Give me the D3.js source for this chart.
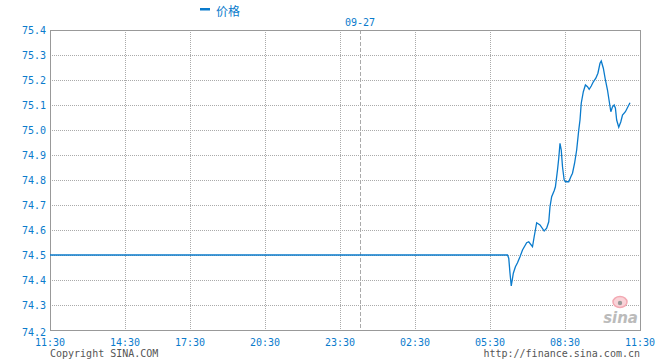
<!DOCTYPE html>
<html><head><meta charset="utf-8">
<script src="https://cdn.jsdelivr.net/npm/d3@7"></script>
<style>body{margin:0;background:#fff;}svg{display:block;}</style>
</head><body><svg id="c" width="660" height="360"></svg>
<script>
// x axis: minute index since 11:30 (trading-minute axis, 1416 minutes total)
const tickLabels = ["11:30","14:30","17:30","20:30","23:30","02:30","05:30","08:30","11:30"];
const tickMinutes = [0,180,336,516,696,876,1056,1236,1416];
const dateLabel = "09-27";
const dateMinute = 744;
const yTicks = [74.2,74.3,74.4,74.5,74.6,74.7,74.8,74.9,75.0,75.1,75.2,75.3,75.4];
const seriesName = "价格";
const minutes = [0,1098,1101,1104,1107,1112,1117,1122,1128,1134,1144,1149,1158,1162,1168,1176,1186,1192,1197,1200,1204,1210,1213,1218,1221,1224,1227,1230,1234,1237,1245,1250,1254,1259,1264,1269,1272,1275,1280,1285,1290,1294,1299,1304,1310,1315,1320,1323,1328,1333,1338,1341,1346,1350,1354,1357,1360,1365,1370,1374,1381,1387,1392];
const prices = [74.50,74.50,74.487,74.427,74.376,74.427,74.453,74.469,74.493,74.52,74.549,74.553,74.533,74.573,74.629,74.62,74.596,74.607,74.633,74.693,74.733,74.757,74.773,74.84,74.887,74.947,74.92,74.853,74.80,74.793,74.793,74.813,74.827,74.867,74.92,75.0,75.04,75.107,75.153,75.18,75.173,75.163,75.176,75.193,75.207,75.227,75.267,75.276,75.247,75.2,75.16,75.127,75.073,75.093,75.1,75.087,75.04,75.011,75.033,75.06,75.073,75.093,75.109];

const svg = d3.select("#c");
const L=50,T=30,R=640,B=330;
const x = d3.scaleLinear().domain([0,1416]).range([L,R]);
const y = d3.scaleLinear().domain([74.2,75.4]).range([B,T]);
const blue="#0a7bcc", mono="'DejaVu Sans Mono', monospace";

// grid
const g = svg.append("g");
g.selectAll("line.h").data(yTicks.slice(1,-1)).join("line")
  .attr("x1",L).attr("x2",R).attr("y1",d=>Math.round(y(d))+0.5).attr("y2",d=>Math.round(y(d))+0.5)
  .attr("stroke","#aaa").attr("stroke-dasharray","1,1");
g.selectAll("line.v").data(tickMinutes.slice(1,-1)).join("line")
  .attr("y1",T).attr("y2",B).attr("x1",d=>Math.round(x(d))+0.5).attr("x2",d=>Math.round(x(d))+0.5)
  .attr("stroke","#aaa").attr("stroke-dasharray","1,1");
svg.append("line").attr("y1",T).attr("y2",B)
  .attr("x1",Math.round(x(dateMinute))+0.5).attr("x2",Math.round(x(dateMinute))+0.5)
  .attr("stroke","#aaa").attr("stroke-dasharray","4,2");

// sina logo
const lg = svg.append("g");
lg.append("text").attr("x",638).attr("y",323).attr("text-anchor","end")
  .attr("font-family","'DejaVu Sans', sans-serif").attr("font-size",15).attr("font-weight","bold")
  .attr("font-style","italic").attr("fill","#bbb").text("sina");
lg.append("ellipse").attr("cx",620).attr("cy",302).attr("rx",7).attr("ry",5.5).attr("fill","#f9d3d8").attr("stroke","#f3a9b3").attr("stroke-width",1.5);
lg.append("circle").attr("cx",620).attr("cy",303).attr("r",2.2).attr("fill","#999");

// border
svg.append("rect").attr("x",L+0.5).attr("y",T+0.5).attr("width",R-L).attr("height",B-T)
  .attr("fill","none").attr("stroke","#999");

// line
svg.append("path").datum(minutes.map((m,i)=>[m,prices[i]]))
  .attr("d",d3.line().x(d=>x(d[0])).y(d=>y(d[1])))
  .attr("fill","none").attr("stroke",blue).attr("stroke-width",1.3);

// y labels
svg.selectAll("text.y").data(yTicks).join("text")
  .attr("x",46).attr("y",(d,i)=>y(d)+(i===0?6:4))
  .attr("text-anchor","end").attr("font-family",mono).attr("font-size",10).attr("fill",blue)
  .text(d=>d.toFixed(1));

// x labels
svg.selectAll("text.x").data(tickMinutes).join("text")
  .attr("x",d=>x(d)).attr("y",346).attr("text-anchor","middle")
  .attr("font-family",mono).attr("font-size",10).attr("fill",blue)
  .text((d,i)=>tickLabels[i]);

// date label
svg.append("text").attr("x",x(dateMinute)).attr("y",26).attr("text-anchor","middle")
  .attr("font-family",mono).attr("font-size",10).attr("fill",blue).text(dateLabel);

// legend
svg.append("rect").attr("x",200).attr("y",8).attr("width",10).attr("height",2.5).attr("fill",blue);
svg.append("text").attr("x",216).attr("y",16).attr("font-family","'Noto Sans CJK SC', sans-serif")
  .attr("font-size",12).attr("fill",blue).text(seriesName);

// footer
svg.append("text").attr("x",50).attr("y",357).attr("font-family",mono).attr("font-size",10)
  .attr("fill","#555").text("Copyright  SINA.COM");
svg.append("text").attr("x",640).attr("y",357).attr("text-anchor","end").attr("font-family",mono).attr("font-size",10)
  .attr("fill","#555").text("http://finance.sina.com.cn");
</script></body></html>
